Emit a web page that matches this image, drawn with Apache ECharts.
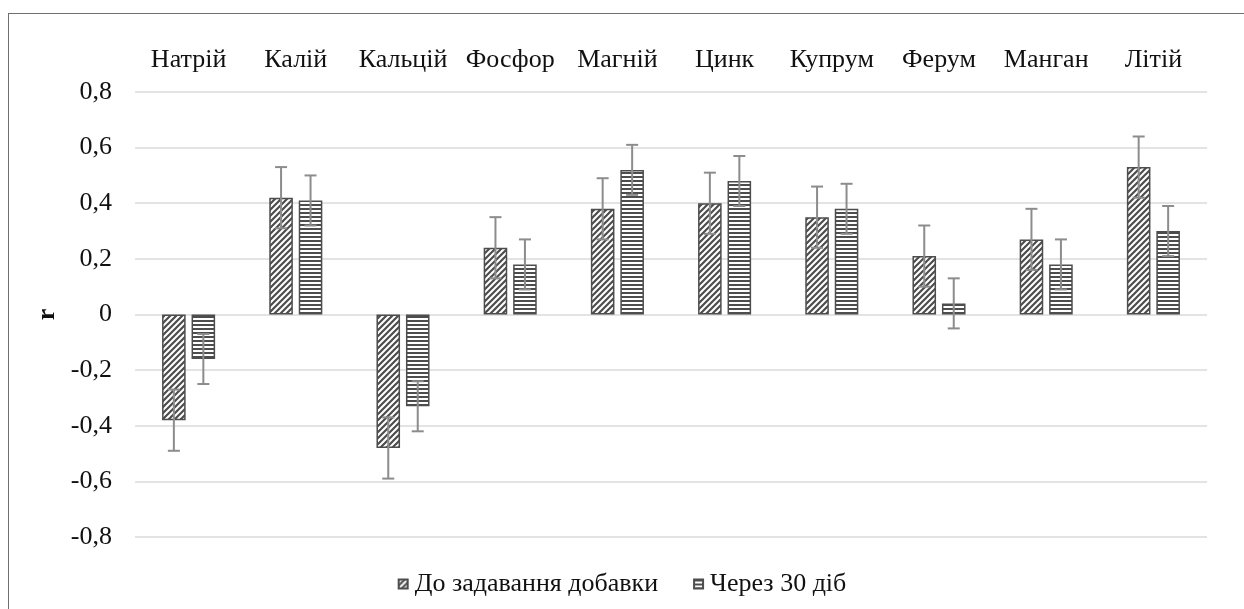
<!DOCTYPE html>
<html>
<head>
<meta charset="utf-8">
<script src="https://cdn.jsdelivr.net/npm/echarts@6/dist/echarts.min.js"></script>
<style>
html,body{margin:0;padding:0;background:#fff;}
#wrap{position:relative;width:1244px;height:609px;overflow:hidden;}
#chart{position:absolute;left:0;top:0;width:1244px;height:609px;}
#frame{position:absolute;left:8px;top:13px;width:1300px;height:700px;border-left:1px solid #707070;border-top:1px solid #707070;pointer-events:none;}
</style>
</head>
<body>
<div id="wrap"><div id="chart"></div><div id="frame"></div></div>
<script>
// ---- data ----
const categories = ['Натрій','Калій','Кальцій','Фосфор','Магній','Цинк','Купрум','Ферум','Манган','Літій'];
const seriesNames = ['До задавання добавки','Через 30 діб'];
const beforeValues = [-0.38, 0.42, -0.48, 0.24, 0.38, 0.40, 0.35, 0.21, 0.27, 0.53];
const afterValues  = [-0.16, 0.41, -0.33, 0.18, 0.52, 0.48, 0.38, 0.04, 0.18, 0.30];
const beforeErrors = [0.11, 0.11, 0.11, 0.11, 0.11, 0.11, 0.11, 0.11, 0.11, 0.11];
const afterErrors  = [0.09, 0.09, 0.09, 0.09, 0.09, 0.09, 0.09, 0.09, 0.09, 0.09];
const yTickLabels = ['-0,8','-0,6','-0,4','-0,2','0','0,2','0,4','0,6','0,8'];

// ---- patterns ----
const STRIPE = '#4d4d4d';
function diagPattern(){
  const c = document.createElement('canvas'); c.width = 6; c.height = 6;
  const g = c.getContext('2d');
  g.fillStyle = '#fff'; g.fillRect(0,0,6,6);
  g.strokeStyle = STRIPE; g.lineWidth = 2.2;
  g.beginPath();
  g.moveTo(-1,7); g.lineTo(7,-1);
  g.moveTo(-1,1); g.lineTo(1,-1);
  g.moveTo(5,7); g.lineTo(7,5);
  g.stroke();
  return c;
}
function horizPattern(){
  const c = document.createElement('canvas'); c.width = 4; c.height = 4;
  const g = c.getContext('2d');
  g.fillStyle = '#fff'; g.fillRect(0,0,4,4);
  g.fillStyle = STRIPE; g.fillRect(0,0,4,2);
  return c;
}
const pat1 = {image: diagPattern(), repeat: 'repeat'};
const pat2 = {image: horizPattern(), repeat: 'repeat'};

const BAR_W = 0.22, BAR_GAP = 0.25;
function errData(vals, errs){ return vals.map((v,i)=>[i, v-errs[i], v+errs[i]]); }
function errRender(sign){
  return function(params, api){
    const x = api.value(0);
    const pLo = api.coord([x, api.value(1)]);
    const pHi = api.coord([x, api.value(2)]);
    const band = api.size([1,0])[0];
    const off = sign * band * BAR_W * (1 + BAR_GAP) / 2;
    const cx = pLo[0] + off, cap = 6;
    const st = {stroke:'#8c8c8c', lineWidth:2, fill:null};
    return {type:'group', children:[
      {type:'line', shape:{x1:cx, y1:pHi[1], x2:cx, y2:pLo[1]}, style:st},
      {type:'line', shape:{x1:cx-cap, y1:pHi[1], x2:cx+cap, y2:pHi[1]}, style:st},
      {type:'line', shape:{x1:cx-cap, y1:pLo[1], x2:cx+cap, y2:pLo[1]}, style:st}
    ]};
  };
}

const FONT = 'Liberation Serif';
const chart = echarts.init(document.getElementById('chart'), null, {renderer:'canvas'});
chart.setOption({
  animation: false,
  textStyle: {fontFamily: FONT},
  grid: {left: 135, right: 37, top: 92, bottom: 72, containLabel: false},
  legend: {
    data: seriesNames, left: 'center', top: 566, icon: 'rect',
    itemWidth: 9, itemHeight: 9, itemGap: 35,
    textStyle: {fontFamily: FONT, fontSize: 26, color: '#111', padding: [0,0,0,2]}
  },
  xAxis: {
    type: 'category', data: categories, position: 'top',
    axisLine: {show: false}, axisTick: {show: false}, splitLine: {show: false},
    axisLabel: {fontFamily: FONT, fontSize: 26, color: '#111', margin: 19, interval: 0}
  },
  yAxis: {
    type: 'value', min: -0.8, max: 0.8, interval: 0.2,
    name: 'r', nameLocation: 'middle', nameRotate: 90, nameGap: 68,
    nameTextStyle: {fontFamily: FONT, fontSize: 26, fontWeight: 'bold', color: '#111'},
    axisLine: {show: false}, axisTick: {show: false},
    splitLine: {lineStyle: {color: '#e3e3e3', width: 2}},
    axisLabel: {
      fontFamily: FONT, fontSize: 26, color: '#111', margin: 23,
      formatter: function(v){ const i = Math.round((v + 0.8) / 0.2); return yTickLabels[i]; }
    }
  },
  series: [
    {name: seriesNames[0], type: 'bar', data: beforeValues, barWidth: (BAR_W*100)+'%', barGap: (BAR_GAP*100)+'%',
     itemStyle: {color: pat1, borderColor: STRIPE, borderWidth: 1.5}},
    {name: seriesNames[1], type: 'bar', data: afterValues, barWidth: (BAR_W*100)+'%', barGap: (BAR_GAP*100)+'%',
     itemStyle: {color: pat2, borderColor: STRIPE, borderWidth: 1.5}},
    {name: 'err1', type: 'custom', data: errData(beforeValues, beforeErrors), renderItem: errRender(-1), z: 10, silent: true},
    {name: 'err2', type: 'custom', data: errData(afterValues, afterErrors), renderItem: errRender(1), z: 10, silent: true}
  ]
});
</script>
</body>
</html>
